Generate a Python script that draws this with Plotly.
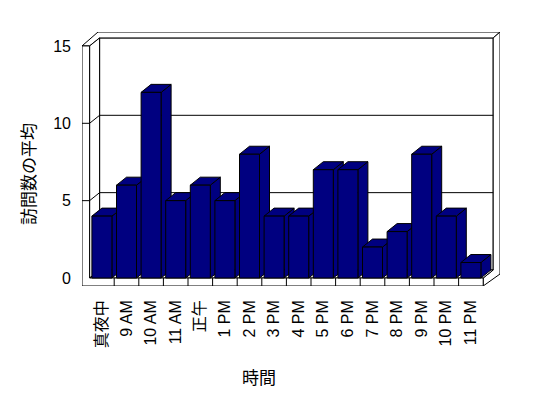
import plotly.graph_objects as go

# ---- data ----
categories = ["真夜中", "9 AM", "10 AM", "11 AM", "正午", "1 PM", "2 PM", "3 PM",
              "4 PM", "5 PM", "6 PM", "7 PM", "8 PM", "9 PM", "10 PM", "11 PM"]
visits_avg = [4, 6, 12, 5, 6, 5, 8, 4, 4, 7, 7, 2, 3, 8, 4, 1]
y_ticks = [0, 5, 10, 15]
y_title = "訪問数の平均"
x_title = "時間"

# ---- geometry (window pixels -> data units) ----
W, H = 548, 398
BODY = 8                         # default page body margin
L, R, T, B = 82, 500, 32, 286    # plot area in window pixels
X_PX = 24.6    # px per category
Y_PX = 15.47   # px per value unit
X0_PX = 89.6   # px of x = -0.5
Y0_PX = 278    # px of y = 0

xr = [(L - X0_PX) / X_PX - 0.5, (R - X0_PX) / X_PX - 0.5]
yr = [(Y0_PX - B) / Y_PX, (Y0_PX - T) / Y_PX]


def dx(p):
    return p / X_PX


def dy(p):
    return p / Y_PX


DX, DY = dx(10), dy(8)           # depth of the plot
FLOOR = dy(8)                    # floor slab thickness
BAR_W = dx(20)
n = len(categories)
ymax = y_ticks[-1]
xa, xb = -0.5, n - 0.5
xo = xr[0]

NAVY = "#000080"
shapes = []


def poly(pts, fill="white", lw=1):
    d = "M " + " L ".join(f"{x},{y}" for x, y in pts) + " Z"
    shapes.append(dict(type="path", path=d, xref="x", yref="y", layer="below",
                       fillcolor=fill, line=dict(color="black", width=lw)))


def seg(p, q):
    shapes.append(dict(type="line", x0=p[0], y0=p[1], x1=q[0], y1=q[1],
                       xref="x", yref="y", layer="below",
                       line=dict(color="black", width=1)))


# back wall front face
poly([(xa + DX, DY), (xb + DX, DY), (xb + DX, ymax + DY), (xa + DX, ymax + DY)])
# top strip (left wall top + back wall top)
poly([(xo, ymax), (xa, ymax), (xa + DX, ymax + DY), (xb + DX, ymax + DY),
      (xr[1], yr[1]), (xo + dx(16), yr[1])])
# right strip (back wall edge + floor side)
poly([(xb, 0), (xb + DX, DY), (xb + DX, ymax + DY), (xr[1], yr[1]),
      (xr[1], -FLOOR + dy(12)), (xb, -FLOOR)])
# left wall inner face
poly([(xa, 0), (xa, ymax), (xa + DX, ymax + DY), (xa + DX, DY)])
# floor top
poly([(xa, 0), (xb, 0), (xb + DX, DY), (xa + DX, DY)])
# left wall + floor front faces
poly([(xo, ymax), (xa, ymax), (xa, 0), (xb, 0), (xb, -FLOOR), (xo, -FLOOR)])

# gridlines
for g in y_ticks[1:-1]:
    seg((xo, g), (xa, g))
    seg((xa, g), (xa + DX, g + DY))
    seg((xa + DX, g + DY), (xb + DX, g + DY))

# category dividers on the floor front
for k in range(1, n):
    seg((k - 0.5, 0), (k - 0.5, -FLOOR))

# bar side and top faces
for i, v in enumerate(visits_avg):
    x0, x1 = i - BAR_W / 2, i + BAR_W / 2
    poly([(x1, 0), (x1, v), (x1 + DX, v + DY), (x1 + DX, DY)], fill=NAVY)
    poly([(x0, v), (x1, v), (x1 + DX, v + DY), (x0 + DX, v + DY)], fill=NAVY)

FONT = "Liberation Sans, Noto Sans CJK JP, sans-serif"

fig = go.Figure()
fig.add_trace(go.Bar(
    x=list(range(n)), y=visits_avg, width=BAR_W,
    marker=dict(color=NAVY, line=dict(color="black", width=1)),
    hoverinfo="skip", showlegend=False,
))


def paper_x(px):
    return (px - L) / (R - L)


def paper_y(py):
    return 1 - (py - T) / (B - T)


fig.update_layout(
    width=W - BODY, height=H - BODY,
    margin=dict(l=L - BODY, r=W - R, t=T - BODY, b=H - B, pad=0),
    paper_bgcolor="white", plot_bgcolor="white",
    font=dict(family=FONT, size=16, color="black"),
    shapes=shapes,
    showlegend=False,
    xaxis=dict(range=xr, tickmode="array", tickvals=list(range(n)),
               ticktext=categories, tickangle=-90, showgrid=False,
               zeroline=False, showline=False, ticks="",
               ticklabelstandoff=10, fixedrange=True),
    yaxis=dict(range=yr, tickmode="array", tickvals=y_ticks,
               showgrid=False, zeroline=False, showline=False, ticks="",
               ticklabelstandoff=10, fixedrange=True),
    annotations=[
        dict(text=y_title, xref="paper", yref="paper",
             x=paper_x(29), y=paper_y(174), textangle=-90,
             showarrow=False, xanchor="center", yanchor="middle",
             font=dict(size=17)),
        dict(text=x_title, xref="paper", yref="paper",
             x=paper_x(259), y=paper_y(378),
             showarrow=False, xanchor="center", yanchor="middle",
             font=dict(size=17)),
    ],
)

fig.write_html("out.html")
